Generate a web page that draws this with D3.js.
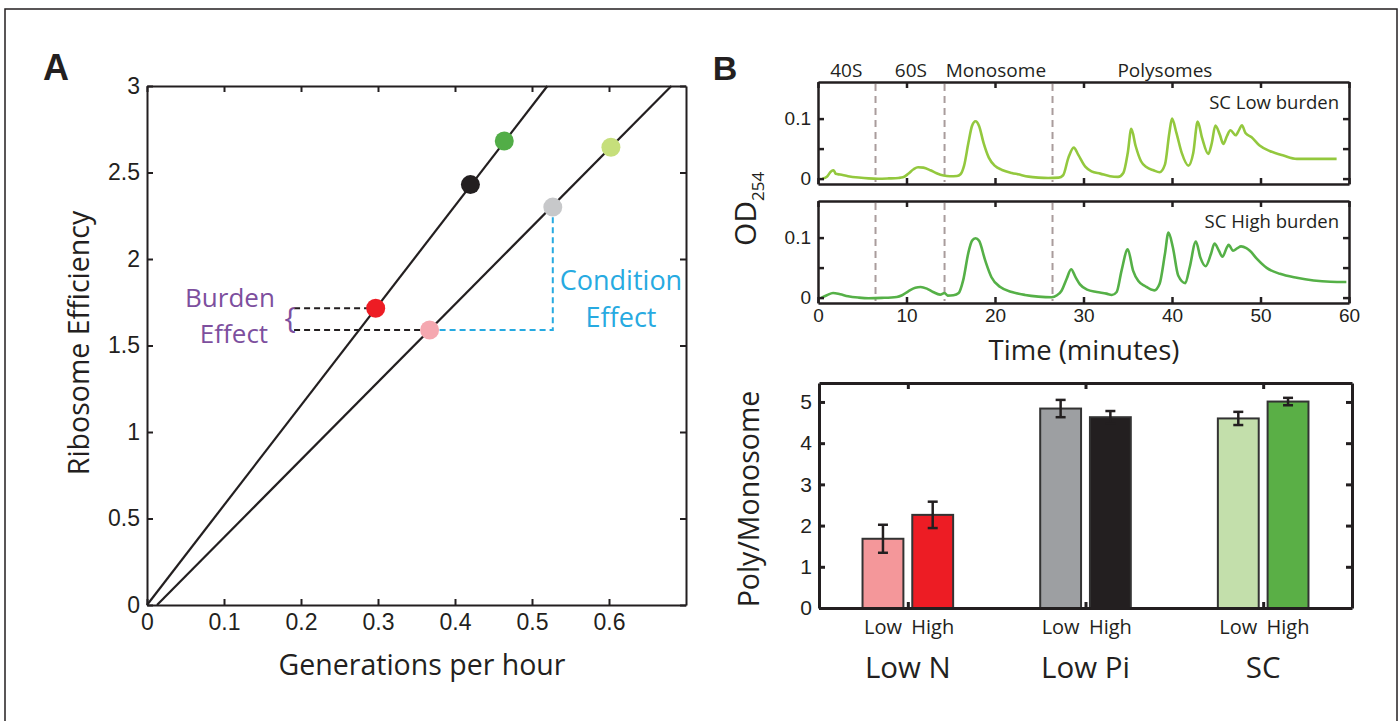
<!DOCTYPE html>
<html>
<head>
<meta charset="utf-8">
<script src="https://cdn.jsdelivr.net/npm/d3@7"></script>
<style>
  body { margin: 0; background: #fff; }
  svg { font-family: 'Open Sans', 'Noto Sans', sans-serif; }
  .tick line, .domain { stroke: #231f20; }
</style>
</head>
<body>
<svg width="1398" height="721"></svg>
<script>
// ---- data: panel A ----
const growthTicks = [0, 0.1, 0.2, 0.3, 0.4, 0.5, 0.6];
const efficiencyTicks = [0, 0.5, 1, 1.5, 2, 2.5, 3];
const dotGrowth = [0.367, 0.297, 0.527, 0.420, 0.6025, 0.464];
const dotEfficiency = [1.59, 1.715, 2.30, 2.43, 2.646, 2.682];
const dotColors = ['#f5a8b0', '#ed1c24', '#c7c8ca', '#231f20', '#c6df7b', '#52ad47'];
const fitHighBurden = [[0, 0], [0.52, 3]];
const fitLowBurden = [[0.013, 0], [0.681, 3]];

// ---- data: panel B traces ----
const timeTicks = [0, 10, 20, 30, 40, 50, 60];
const odTicks = [0, 0.05, 0.1];
const fractionNames = ['40S', '60S', 'Monosome', 'Polysomes'];
const fractionLabelTime = [3.2, 10.5, 20.1, 39.2];
const fractionBounds = [6.5, 14.3, 26.5];
const lowBurdenTrace = [
  [0.5, 0], [1.0, 0.003], [1.47, 0.012], [1.77, 0.014], [2.0, 0.008], [2.5, 0.0067], [3.4, 0.004],
  [4.6, 0.0017], [5.7, 0.0003], [6.8, -0.0002], [8.0, 0.0003], [9.1, 0.0011], [9.6, 0.0022],
  [10.2, 0.008], [10.8, 0.0156], [11.3, 0.019], [11.9, 0.0183], [12.7, 0.0139], [13.4, 0.0089],
  [14.2, 0.005], [14.9, 0.0039], [15.7, 0.0044], [16.1, 0.0072], [16.5, 0.0211], [17.0, 0.06],
  [17.4, 0.0878], [17.8, 0.0956], [18.2, 0.0878], [18.7, 0.06], [19.3, 0.035], [20.0, 0.0211],
  [20.8, 0.0144], [21.9, 0.0094], [22.6, 0.0072], [23.8, 0.0033], [24.9, 0.0017], [26.0, 0.0011],
  [27.2, 0.0017], [27.7, 0.0056], [28.3, 0.035], [28.9, 0.0517], [29.4, 0.04], [30.2, 0.02],
  [30.9, 0.0122], [31.9, 0.0083], [33.0, 0.0039], [33.9, 0.0028], [34.5, 0.0094], [35.0, 0.0428],
  [35.4, 0.0828], [35.9, 0.0539], [36.5, 0.0289], [37.1, 0.0194], [37.9, 0.0139], [38.6, 0.0106],
  [39.2, 0.0233], [39.7, 0.0761], [40.0, 0.1], [40.5, 0.0761], [41.1, 0.0428], [41.85, 0.0217],
  [42.4, 0.0428], [42.9, 0.095], [43.4, 0.0678], [44.1, 0.0411], [44.5, 0.0594], [44.9, 0.0883],
  [45.4, 0.0733], [45.8, 0.0578], [46.2, 0.0706], [46.6, 0.0806], [47.2, 0.0722], [47.6, 0.0817],
  [47.9, 0.0889], [48.3, 0.0761], [49.0, 0.0689], [49.9, 0.055], [51.1, 0.0456], [52.6, 0.0383],
  [54.1, 0.0328], [56.0, 0.0328], [58.6, 0.0328]
];
const highBurdenTrace = [
  [0.4, 0], [1.0, 0.0039], [1.7, 0.0077], [2.5, 0.0055], [3.4, 0.0022], [4.6, 0], [5.7, -0.001],
  [7.2, -0.0005], [8.9, 0.0011], [9.5, 0.0039], [10.2, 0.0105], [11.0, 0.0165], [11.6, 0.0176],
  [12.3, 0.0149], [13.0, 0.0094], [13.8, 0.005], [14.3, 0.0077], [14.65, 0.0033], [15.3, 0.0039],
  [15.9, 0.0077], [16.4, 0.0286], [17.0, 0.0754], [17.4, 0.0946], [17.8, 0.099], [18.2, 0.0946],
  [18.9, 0.0616], [19.6, 0.034], [20.6, 0.0176], [21.9, 0.0094], [23.4, 0.0044], [24.9, 0.0017],
  [26.4, 0.0006], [27.0, 0.0039], [27.5, 0.011], [28.1, 0.0314], [28.6, 0.0473], [29.1, 0.034],
  [29.6, 0.022], [30.4, 0.0132], [31.5, 0.0094], [32.6, 0.0066], [33.2, 0.0044], [33.75, 0.0094],
  [34.3, 0.045], [35.0, 0.0803], [35.6, 0.045], [36.2, 0.0275], [36.95, 0.0193], [38.0, 0.0121],
  [38.6, 0.0231], [39.2, 0.0726], [39.6, 0.1083], [40.1, 0.0836], [40.7, 0.0368], [41.5, 0.0242],
  [42.0, 0.0506], [42.7, 0.0935], [43.2, 0.0671], [43.8, 0.0523], [44.4, 0.0726], [44.8, 0.0902],
  [45.3, 0.0781], [45.7, 0.0682], [46.2, 0.0836], [46.4, 0.088], [46.9, 0.0781], [47.4, 0.0825],
  [47.8, 0.0853], [48.4, 0.0825], [48.8, 0.0781], [49.6, 0.0644], [50.7, 0.0495], [52.2, 0.0396],
  [54.1, 0.033], [56.0, 0.0286], [57.9, 0.0264], [59.7, 0.0259]
];

// ---- data: panel B bars ----
const conditions = ['Low N', 'Low Pi', 'SC'];
const burdens = ['Low', 'High'];
const ratioMean = [[1.68, 2.26], [4.84, 4.63], [4.60, 5.01]];
const ratioErr = [[0.34, 0.32], [0.21, 0.15], [0.16, 0.09]];
const ratioTicks = [0, 1, 2, 3, 4, 5];
const barColors = [['#f4979a', '#ed1c24'], ['#9d9fa2', '#231f20'], ['#c3dfab', '#5aaf46']];

const svg = d3.select('svg');
const ink = '#231f20';
const fmt = d3.format('~g');

// outer frame
svg.append('rect')
  .attr('x', 5).attr('y', 9).attr('width', 1392).attr('height', 730)
  .attr('fill', 'none').attr('stroke', ink).attr('stroke-width', 1.5);

// boxed axes with inward ticks on all four sides
const boxAxes = (g, x, y, {xTicks, yTicks, xLabels = true, yLabels = true, tick = 6, size = 21, width = 2, padX = 9}) => {
  const [x0, x1] = x.range();
  const [y0, y1] = y.range();
  const bottom = g.append('g').attr('transform', `translate(0,${y0})`)
    .call(d3.axisBottom(x).tickValues(xTicks).tickSize(-tick).tickSizeOuter(0).tickPadding(padX)
      .tickFormat(xLabels ? (typeof xLabels === 'function' ? xLabels : fmt) : ''));
  const top = g.append('g').attr('transform', `translate(0,${y1})`)
    .call(d3.axisTop(x).tickValues(xTicks).tickSize(-tick).tickSizeOuter(0).tickFormat(''));
  const left = g.append('g').attr('transform', `translate(${x0},0)`)
    .call(d3.axisLeft(y).tickValues(yTicks).tickSize(-tick).tickSizeOuter(0).tickPadding(7)
      .tickFormat(yLabels ? (typeof yLabels === 'function' ? yLabels : fmt) : ''));
  const right = g.append('g').attr('transform', `translate(${x1},0)`)
    .call(d3.axisRight(y).tickValues(yTicks).tickSize(-tick).tickSizeOuter(0).tickFormat(''));
  [bottom, top, left, right].forEach(a => {
    a.selectAll('path, line').attr('stroke', ink).attr('stroke-width', width);
    a.selectAll('text').attr('fill', ink).attr('font-size', size).attr('font-family', 'inherit');
  });
  return {bottom, left};
};

// ================= Panel A =================
const xA = d3.scaleLinear().domain([0, 0.7]).range([147, 686]);
const yA = d3.scaleLinear().domain([0, 3]).range([605, 86]);
const gA = svg.append('g');

svg.append('text').attr('x', 56).attr('y', 80).attr('text-anchor', 'middle')
  .attr('font-size', 36).attr('font-weight', 'bold').attr('font-family', 'Liberation Sans, Arial, sans-serif')
  .attr('fill', ink).text('A');

const lineA = d3.line().x(d => xA(d[0])).y(d => yA(d[1]));
gA.selectAll('path.fit').data([fitHighBurden, fitLowBurden]).enter().append('path')
  .attr('class', 'fit').attr('d', lineA).attr('fill', 'none').attr('stroke', ink).attr('stroke-width', 2.2);

// burden and condition guides
const bracketX = 0.191;
gA.append('path').attr('d', lineA([[bracketX, dotEfficiency[1]], [dotGrowth[1], dotEfficiency[1]]]))
  .attr('stroke', ink).attr('stroke-width', 2).attr('stroke-dasharray', '6,4').attr('fill', 'none');
gA.append('path').attr('d', lineA([[bracketX, dotEfficiency[0]], [dotGrowth[0], dotEfficiency[0]]]))
  .attr('stroke', ink).attr('stroke-width', 2).attr('stroke-dasharray', '6,4').attr('fill', 'none');
gA.append('path').attr('d', lineA([[dotGrowth[0], dotEfficiency[0]], [dotGrowth[2], dotEfficiency[0]], [dotGrowth[2], dotEfficiency[2]]]))
  .attr('stroke', '#27aae1').attr('stroke-width', 2).attr('stroke-dasharray', '6,4').attr('fill', 'none');

gA.append('text')
  .attr('x', xA(bracketX) - 4).attr('y', yA((dotEfficiency[0] + dotEfficiency[1]) / 2) + 9)
  .attr('text-anchor', 'middle').attr('font-size', 30).attr('fill', '#7d4f9e').text('{');

const burdenText = gA.append('text').attr('text-anchor', 'middle').attr('font-size', 26).attr('fill', '#7d4f9e');
burdenText.append('tspan').attr('x', 230).attr('y', 307).text('Burden');
burdenText.append('tspan').attr('x', 234).attr('y', 343).text('Effect');
const condText = gA.append('text').attr('text-anchor', 'middle').attr('font-size', 27).attr('fill', '#27aae1');
condText.append('tspan').attr('x', 621).attr('y', 290).text('Condition');
condText.append('tspan').attr('x', 621).attr('y', 327).text('Effect');

gA.selectAll('circle').data(dotGrowth).enter().append('circle')
  .attr('cx', d => xA(d)).attr('cy', (d, i) => yA(dotEfficiency[i]))
  .attr('r', 9.5).attr('fill', (d, i) => dotColors[i]);

boxAxes(gA, xA, yA, {xTicks: growthTicks, yTicks: efficiencyTicks, size: 23});

gA.append('text').attr('x', 422).attr('y', 675).attr('text-anchor', 'middle')
  .attr('font-size', 28.5).attr('fill', ink).text('Generations per hour');
gA.append('text').attr('transform', 'translate(89,343) rotate(-90)').attr('text-anchor', 'middle')
  .attr('font-size', 28.5).attr('fill', ink).text('Ribosome Efficiency');

// ================= Panel B: profiles =================
svg.append('text').attr('x', 725).attr('y', 80).attr('text-anchor', 'middle')
  .attr('font-size', 34).attr('font-weight', 'bold').attr('font-family', 'Liberation Sans, Arial, sans-serif')
  .attr('fill', ink).text('B');

const xB = d3.scaleLinear().domain([0, 60]).range([818, 1349]);
const profiles = [
  {trace: lowBurdenTrace, name: 'SC Low burden', color: '#93c83e', range: [184, 82]},
  {trace: highBurdenTrace, name: 'SC High burden', color: '#55b047', range: [303, 201]}
];

profiles.forEach((p, k) => {
  const y = d3.scaleLinear().domain([-0.009, 0.161]).range(p.range);
  const g = svg.append('g');
  g.selectAll('line.bound').data(fractionBounds).enter().append('line')
    .attr('class', 'bound')
    .attr('x1', d => xB(d)).attr('x2', d => xB(d))
    .attr('y1', p.range[1] + 2).attr('y2', p.range[0] - 2)
    .attr('stroke', '#a99c9c').attr('stroke-width', 2).attr('stroke-dasharray', '7,5');
  g.append('path').datum(p.trace)
    .attr('d', d3.line().x(d => xB(d[0])).y(d => y(d[1])).curve(d3.curveMonotoneX))
    .attr('fill', 'none').attr('stroke', p.color).attr('stroke-width', 2.6);
  boxAxes(g, xB, y, {xTicks: timeTicks, yTicks: odTicks, xLabels: k === 1,
    yLabels: d => (d === 0.05 ? '' : fmt(d)), size: 19, width: 2.5, padX: 6});
  g.append('text').attr('x', 1339).attr('y', p.range[1] + 27).attr('text-anchor', 'end')
    .attr('font-size', 18.5).attr('fill', ink).text(p.name);
});

svg.selectAll('text.fraction').data(fractionNames).enter().append('text')
  .attr('class', 'fraction')
  .attr('x', (d, i) => xB(fractionLabelTime[i])).attr('y', 77)
  .attr('text-anchor', 'middle').attr('font-size', 19).attr('fill', ink).text(d => d);

svg.append('text').attr('x', 1084).attr('y', 360).attr('text-anchor', 'middle')
  .attr('font-size', 27.5).attr('fill', ink).text('Time (minutes)');

const od = svg.append('text').attr('transform', 'translate(756,246) rotate(-90)')
  .attr('font-size', 30).attr('fill', ink);
od.append('tspan').text('OD');
od.append('tspan').attr('font-size', 17).attr('dy', 8).text('254');

// ================= Panel B: bars =================
const xBar = d3.scaleLinear().domain([0.5, 3.5]).range([819, 1352]);
const yBar = d3.scaleLinear().domain([0, 5.46]).range([608, 383]);
const offset = d3.scaleOrdinal().domain(burdens).range([-0.14, 0.14]);
const barW = xBar(0.73) - xBar(0.5);

const bars = conditions.flatMap((c, i) => burdens.map((b, j) => ({
  c, b, pos: i + 1 + offset(b), mean: ratioMean[i][j], err: ratioErr[i][j], color: barColors[i][j]
})));

const gBar = svg.append('g');
gBar.selectAll('rect').data(bars).enter().append('rect')
  .attr('x', d => xBar(d.pos) - barW / 2).attr('width', barW)
  .attr('y', d => yBar(d.mean)).attr('height', d => yBar(0) - yBar(d.mean))
  .attr('fill', d => d.color).attr('stroke', '#333').attr('stroke-width', 2);

const errG = gBar.selectAll('g.err').data(bars).enter().append('g').attr('class', 'err');
errG.append('line')
  .attr('x1', d => xBar(d.pos)).attr('x2', d => xBar(d.pos))
  .attr('y1', d => yBar(d.mean - d.err)).attr('y2', d => yBar(d.mean + d.err));
errG.selectAll('line.cap').data(d => [d.mean - d.err, d.mean + d.err].map(v => ({v, pos: d.pos})))
  .enter().append('line').attr('class', 'cap')
  .attr('x1', d => xBar(d.pos) - 5).attr('x2', d => xBar(d.pos) + 5)
  .attr('y1', d => yBar(d.v)).attr('y2', d => yBar(d.v));
errG.selectAll('line').attr('stroke', ink).attr('stroke-width', 2.5);

boxAxes(gBar, xBar, yBar, {xTicks: [1, 2, 3], yTicks: ratioTicks, xLabels: false, size: 21, width: 3});

gBar.selectAll('text.burden').data(bars).enter().append('text')
  .attr('class', 'burden')
  .attr('x', d => xBar(d.pos)).attr('y', 634).attr('text-anchor', 'middle')
  .attr('font-size', 20).attr('fill', ink).text(d => d.b);
gBar.selectAll('text.cond').data(conditions).enter().append('text')
  .attr('class', 'cond')
  .attr('x', (d, i) => xBar(i + 1)).attr('y', 678).attr('text-anchor', 'middle')
  .attr('font-size', 29.5).attr('fill', ink).text(d => d);
gBar.append('text').attr('transform', 'translate(759,499) rotate(-90)').attr('text-anchor', 'middle')
  .attr('font-size', 28.5).attr('fill', ink).text('Poly/Monosome');
</script>
</body>
</html>
